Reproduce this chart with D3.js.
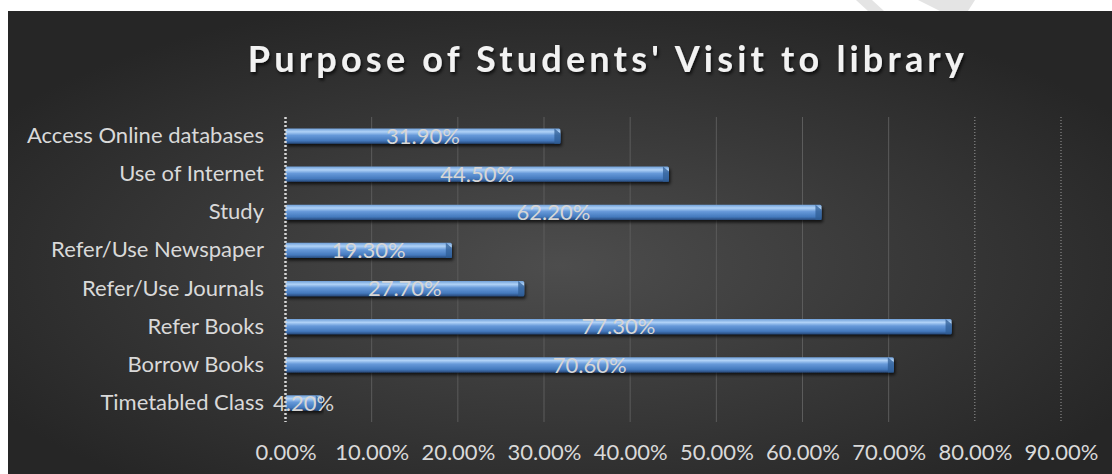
<!DOCTYPE html>
<html>
<head>
<meta charset="utf-8">
<script src="https://cdn.jsdelivr.net/npm/d3@7"></script>
<style>
  body { margin: 0; background: #fff; }
  svg { display: block; }
</style>
</head>
<body>
<div id="chart"></div>
<script>
// chart data
var categories = ["Access Online databases", "Use of Internet", "Study", "Refer/Use Newspaper",
                  "Refer/Use Journals", "Refer Books", "Borrow Books", "Timetabled Class"];
var values = [31.9, 44.5, 62.2, 19.3, 27.7, 77.3, 70.6, 4.2];
var ticks = [0, 10, 20, 30, 40, 50, 60, 70, 80, 90];
var title = "Purpose of Students' Visit to library";

var W = 1112, H = 474;
var font = "Lato, 'Open Sans', sans-serif";

var svg = d3.select("#chart").append("svg")
    .attr("width", W)
    .attr("height", H);

var defs = svg.append("defs");

var bg = defs.append("radialGradient")
    .attr("id", "bg")
    .attr("cx", "50%").attr("cy", "55%").attr("r", "60%");
bg.append("stop").attr("offset", "0%").attr("stop-color", "#4d4d4d");
bg.append("stop").attr("offset", "100%").attr("stop-color", "#262626");

var barGrad = defs.append("linearGradient")
    .attr("id", "barGrad")
    .attr("x1", 0).attr("y1", 0).attr("x2", 0).attr("y2", 1);
barGrad.append("stop").attr("offset", "0%").attr("stop-color", "#6f9fd8");
barGrad.append("stop").attr("offset", "22%").attr("stop-color", "#b0d2f7");
barGrad.append("stop").attr("offset", "45%").attr("stop-color", "#6699d9");
barGrad.append("stop").attr("offset", "80%").attr("stop-color", "#4479bd");
barGrad.append("stop").attr("offset", "100%").attr("stop-color", "#27497a");

var shadow = defs.append("filter").attr("id", "shadow")
    .attr("x", "-5%").attr("y", "-20%").attr("width", "110%").attr("height", "160%");
shadow.append("feDropShadow")
    .attr("dx", 1.5).attr("dy", 2.5).attr("stdDeviation", 1.5)
    .attr("flood-color", "#000").attr("flood-opacity", 0.7);

// faint watermark in the white margin
svg.append("path")
    .attr("d", "M856,0 L872,0 L884,11 L868,11 Z M918,0 L975,0 L968,11 L940,11 Z")
    .attr("fill", "#e4e4e4");

// background panel
svg.append("rect")
    .attr("x", 8).attr("y", 11)
    .attr("width", W - 8).attr("height", H - 11)
    .attr("fill", "url(#bg)");

// title
svg.append("text")
    .attr("x", 608).attr("y", 72)
    .attr("text-anchor", "middle")
    .attr("font-family", font)
    .attr("font-weight", "bold")
    .attr("font-size", 36)
    .attr("letter-spacing", 4.2)
    .attr("fill", "#f2f2f2")
    .attr("filter", "url(#shadow)")
    .text(title);

var margin = { left: 285.5, right: W - 1061, top: 117, bottom: H - 422 };

var x = d3.scaleLinear()
    .domain([0, 90])
    .range([margin.left, W - margin.right]);

var y = d3.scaleBand()
    .domain(categories)
    .range([margin.top, H - margin.bottom])
    .paddingInner(0.6)
    .paddingOuter(0.3);

// gridlines
svg.append("g").selectAll("line")
    .data(ticks.filter(function(d) { return d > 0; }))
    .enter().append("line")
    .attr("x1", function(d) { return x(d); })
    .attr("x2", function(d) { return x(d); })
    .attr("y1", margin.top)
    .attr("y2", H - margin.bottom)
    .attr("stroke", function(d) { return d >= 80 ? "#9a9a9a" : "#5c5c5c"; })
    .attr("stroke-width", 1)
    .attr("stroke-dasharray", function(d) { return d >= 80 ? "1,2" : null; });

// x axis tick labels
var xAxis = d3.axisBottom(x)
    .tickValues(ticks)
    .tickSize(0)
    .tickPadding(0)
    .tickFormat(function(d) { return d3.format(".2f")(d) + "%"; });

var gx = svg.append("g")
    .attr("transform", "translate(0," + 444 + ")")
    .call(xAxis);
gx.select(".domain").remove();
gx.selectAll("text")
    .attr("font-family", font)
    .attr("font-size", 22)
    .attr("fill", "#d9d9d9");

// category labels
var yAxis = d3.axisLeft(y).tickSize(0).tickPadding(0);
var gy = svg.append("g")
    .attr("transform", "translate(" + 264 + ",0)")
    .call(yAxis);
gy.select(".domain").remove();
gy.selectAll("text")
    .attr("font-family", font)
    .attr("font-size", 22)
    .attr("fill", "#d9d9d9");

// bars
var bars = svg.append("g");
bars.selectAll("rect")
    .data(values)
    .enter().append("rect")
    .attr("x", x(0))
    .attr("y", function(d, i) { return y(categories[i]); })
    .attr("width", function(d) { return x(d) - x(0); })
    .attr("height", y.bandwidth())
    .attr("rx", 1.5)
    .attr("fill", "url(#barGrad)")
    .attr("filter", "url(#shadow)");

// bevel at bar end
bars.selectAll("path")
    .data(values)
    .enter().append("path")
    .attr("d", function(d, i) {
        var x1 = x(d), y0 = y(categories[i]), h = y.bandwidth();
        return "M" + (x1 - 6) + "," + y0 + "L" + x1 + "," + (y0 + 5) +
               "L" + x1 + "," + (y0 + h) + "L" + (x1 - 6) + "," + (y0 + h) + "Z";
    })
    .attr("fill", "#2f5d96")
    .attr("opacity", 0.75);

// value axis line
svg.append("line")
    .attr("x1", x(0)).attr("x2", x(0))
    .attr("y1", margin.top).attr("y2", H - margin.bottom)
    .attr("stroke", "#d8d8d8")
    .attr("stroke-width", 2.5)
    .attr("stroke-dasharray", "2,2");

// data labels
svg.append("g").selectAll("text")
    .data(values)
    .enter().append("text")
    .attr("x", function(d) { return (x(0) + x(d)) / 2; })
    .attr("y", function(d, i) { return y(categories[i]) + y.bandwidth() / 2; })
    .attr("dy", "0.35em")
    .attr("text-anchor", "middle")
    .attr("font-family", font)
    .attr("font-size", 22)
    .attr("fill", "#d6d6d6")
    .text(function(d) { return d3.format(".2f")(d) + "%"; });
</script>
</body>
</html>
